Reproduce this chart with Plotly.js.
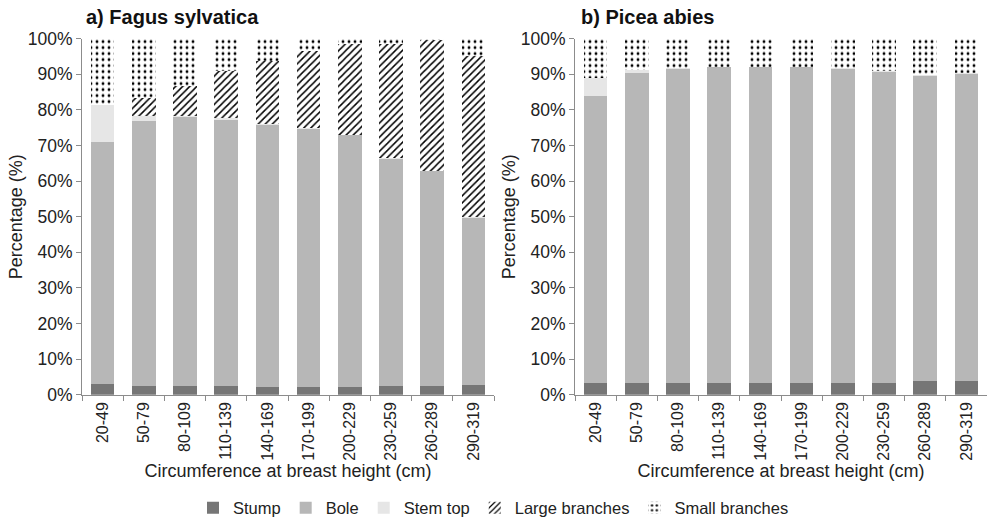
<!DOCTYPE html>
<html>
<head>
<meta charset="utf-8">
<script src="https://cdn.plot.ly/plotly-3.0.1.min.js"></script>
<style>html,body{margin:0;padding:0;background:#fff;}#chart{width:987px;height:526px;}</style>
</head>
<body>
<div id="chart"></div>
<script>
var categories = ['20-49','50-79','80-109','110-139','140-169','170-199','200-229','230-259','260-289','290-319'];

// a) Fagus sylvatica (%)
var fagusStump   = [3.1, 2.5, 2.5, 2.5, 2.1, 2.1, 2.1, 2.5, 2.5, 2.8];
var fagusBole    = [67.9, 74.5, 75.5, 74.7, 73.7, 72.5, 70.7, 63.7, 60.2, 46.8];
var fagusStemTop = [10.4, 1.4, 0.3, 0.4, 0.2, 0.2, 0.2, 0.2, 0.2, 0.2];
var fagusLarge   = [0, 4.9, 8.3, 13.4, 17.8, 21.8, 25.5, 32.1, 36.6, 45.2];
var fagusSmall   = [18.6, 16.7, 13.4, 9.0, 6.2, 3.4, 1.5, 1.5, 0.5, 5.0];

// b) Picea abies (%)
var piceaStump   = [3.4, 3.4, 3.2, 3.2, 3.2, 3.4, 3.4, 3.4, 3.9, 3.8];
var piceaBole    = [80.6, 86.9, 88.4, 88.7, 88.7, 88.5, 88.2, 87.1, 85.7, 86.4];
var piceaStemTop = [4.9, 0.9, 0.2, 0.2, 0.2, 0.2, 0.2, 0.3, 0.3, 0.2];
var piceaLarge   = [0, 0, 0, 0, 0, 0, 0, 0, 0, 0];
var piceaSmall   = [11.1, 8.8, 8.2, 7.9, 7.9, 7.9, 8.2, 9.2, 10.1, 9.6];

var seriesNames = ['Stump', 'Bole', 'Stem top', 'Large branches', 'Small branches'];

var markers = [
  {color: '#767676'},
  {color: '#b7b7b7'},
  {color: '#e6e6e6'},
  {color: '#ffffff', pattern: {shape: '/', fgcolor: '#000000', bgcolor: '#ffffff', size: 5, solidity: 0.3}},
  {color: '#ffffff', pattern: {shape: '.', fgcolor: '#000000', bgcolor: '#ffffff', size: 6, solidity: 0.18}}
];

var fagus = [fagusStump, fagusBole, fagusStemTop, fagusLarge, fagusSmall];
var picea = [piceaStump, piceaBole, piceaStemTop, piceaLarge, piceaSmall];

var traces = [];
seriesNames.forEach(function (name, i) {
  traces.push({
    type: 'bar', name: name, x: categories, y: fagus[i], xaxis: 'x', yaxis: 'y',
    marker: Object.assign({line: {width: 0}}, markers[i]), legendgroup: name, showlegend: true,
    hoverinfo: 'x+y+name'
  });
});
seriesNames.forEach(function (name, i) {
  traces.push({
    type: 'bar', name: name, x: categories, y: picea[i], xaxis: 'x2', yaxis: 'y2',
    marker: Object.assign({line: {width: 0}}, markers[i]), legendgroup: name, showlegend: false,
    hoverinfo: 'x+y+name'
  });
});

var W = 987, H = 526;
var fontFam = 'Liberation Sans, Arial, sans-serif';
var axisColor = '#8c8c8c';
var yDom = [(H - 398.5) / H, (H - 39) / H];

function xAxis(dom, anchor) {
  return {
    domain: dom, anchor: anchor, type: 'category',
    showline: true, linecolor: axisColor, linewidth: 1,
    ticks: 'outside', tickson: 'boundaries', ticklen: 5, tickcolor: axisColor,
    tickangle: -90, tickfont: {size: 16, color: '#222'},
    showgrid: false, zeroline: false,
    title: {text: 'Circumference at breast height (cm)', font: {size: 18, color: '#222'}, standoff: 0}
  };
}
function yAxis(anchor) {
  return {
    domain: yDom, anchor: anchor, range: [0, 100], dtick: 10, ticksuffix: '%',
    showline: true, linecolor: axisColor, linewidth: 1,
    ticks: 'outside', ticklen: 5, tickcolor: axisColor,
    tickfont: {size: 17.5, color: '#222'},
    showgrid: false, zeroline: false,
    title: {text: 'Percentage (%)', font: {size: 18, color: '#222'}, standoff: 0}
  };
}

var layout = {
  width: W, height: H,
  margin: {l: 0, r: 0, t: 0, b: 0},
  paper_bgcolor: '#ffffff', plot_bgcolor: '#ffffff',
  font: {family: fontFam, color: '#222'},
  barmode: 'stack', bargap: 0.43,
  xaxis: xAxis([82 / W, 494 / W], 'y'),
  yaxis: yAxis('x'),
  xaxis2: xAxis([575 / W, 1], 'y2'),
  yaxis2: yAxis('x2'),
  showlegend: true,
  legend: {
    orientation: 'h', x: 0.5, xanchor: 'center', y: 13 / H, yanchor: 'middle',
    font: {size: 16.5, color: '#222'}, traceorder: 'normal', itemwidth: 30,
    bgcolor: 'rgba(0,0,0,0)'
  },
  annotations: [
    {text: '<b>a) Fagus sylvatica</b>', xref: 'paper', yref: 'paper', x: 84 / W, y: (H - 17) / H,
     xanchor: 'left', yanchor: 'middle', showarrow: false, font: {size: 20, color: '#111'}},
    {text: '<b>b) Picea abies</b>', xref: 'paper', yref: 'paper', x: 579 / W, y: (H - 17) / H,
     xanchor: 'left', yanchor: 'middle', showarrow: false, font: {size: 20, color: '#111'}}
  ]
};

Plotly.newPlot('chart', traces, layout, {displayModeBar: false, staticPlot: true});
</script>
</body>
</html>
